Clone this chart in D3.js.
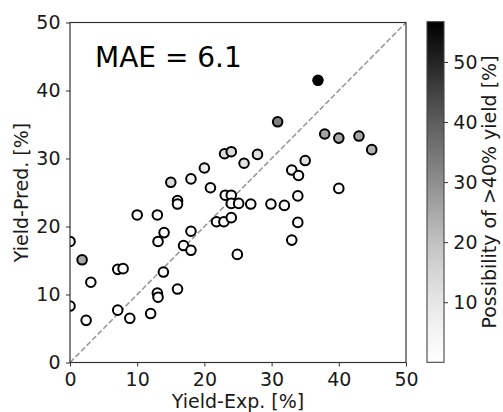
<!DOCTYPE html>
<html>
<head>
<meta charset="utf-8">
<script src="https://cdn.jsdelivr.net/npm/d3@7/dist/d3.min.js"></script>
<style>
  html, body { margin: 0; padding: 0; background: #fff; }
  svg { display: block; font-family: "DejaVu Sans", sans-serif; }
</style>
</head>
<body>
<svg id="chart" width="503" height="412"></svg>
<script>
// Experimental vs predicted yield, coloured by the predicted chance of >40% yield
const yieldExp = [
  0, 3.1, 0, 2.4, 7.1, 7.9, 7.1, 8.9, 10.0, 13.0,
  13.1, 14.0, 13.9, 13.0, 13.1, 12.0, 16.0, 16.0, 16.0, 16.9,
  18.0, 18.0, 21.8, 22.9, 24.0, 24.9, 23.1, 24.0, 24.0, 25.1,
  26.9, 29.9, 31.9, 33.9, 33.9, 33.0, 33.0, 34.0, 40.0,
  35.0, 15.0, 18.0, 20.0, 20.9, 23.0, 24.0, 25.9, 27.9,
  1.8, 30.9, 37.9, 40.0, 43.0, 44.9, 36.9
];
const yieldPred = [
  17.8, 11.8, 8.3, 6.2, 13.7, 13.8, 7.7, 6.5, 21.7, 21.7,
  17.8, 19.1, 13.3, 10.2, 9.6, 7.2, 10.8, 23.8, 23.3, 17.2,
  19.3, 16.5, 20.7, 20.7, 21.3, 15.9, 24.6, 24.6, 23.4, 23.4,
  23.3, 23.3, 23.1, 24.5, 20.6, 18.0, 28.3, 27.5, 25.6,
  29.7, 26.5, 27.0, 28.6, 25.7, 30.7, 31.0, 29.3, 30.6,
  15.1, 35.4, 33.6, 33.0, 33.3, 31.3, 41.5
];
const possibility = [
  1.5, 1.0, 1.2, 0.8, 1.5, 1.8, 0.9, 0.7, 2.0, 2.2,
  1.6, 1.8, 1.2, 1.0, 0.9, 0.8, 1.2, 3.0, 2.5, 1.5,
  2.0, 1.4, 1.8, 2.0, 2.2, 1.3, 2.8, 3.0, 2.4, 2.6,
  2.5, 2.8, 2.6, 3.0, 2.0, 1.6, 3.5, 3.2, 2.5,
  12, 14, 6, 8, 5, 13, 13, 11, 12,
  25, 33, 26, 25, 25.5, 23, 56.7
];
const axisTicks = [0, 10, 20, 30, 40, 50];
const colorTicks = [10, 20, 30, 40, 50];
const colorRange = [0, 56.7];
const maeText = "MAE = 6.1";

const svg = d3.select("#chart");
const plotL = 70, plotR = 406, plotT = 22.5, plotB = 362.5;

const x = d3.scaleLinear().domain([0, 50]).range([plotL, plotR]);
const y = d3.scaleLinear().domain([0, 50]).range([plotB, plotT]);
const color = d3.scaleSequential(d3.interpolateGreys).domain(colorRange);

const fontSize = 19;
const ink = "#1a1a1a";

const defs = svg.append("defs");
// clip for marks inside the axes
defs.append("clipPath").attr("id", "plotClip")
  .append("rect").attr("x", plotL).attr("y", plotT)
  .attr("width", plotR - plotL).attr("height", plotB - plotT);

// identity line
svg.append("line")
  .attr("clip-path", "url(#plotClip)")
  .attr("x1", x(0)).attr("y1", y(0)).attr("x2", x(50)).attr("y2", y(50))
  .attr("stroke", "#9a9a9a").attr("stroke-width", 1.6)
  .attr("stroke-dasharray", "5.5,2.4");

// points
const pts = yieldExp.map((v, i) => ({ e: v, p: yieldPred[i], c: possibility[i] }));
svg.append("g").attr("clip-path", "url(#plotClip)")
  .selectAll("circle").data(pts).join("circle")
  .attr("cx", d => x(d.e)).attr("cy", d => y(d.p)).attr("r", 4.8)
  .attr("fill", d => color(d.c))
  .attr("stroke", "#000").attr("stroke-width", 2);

// axes
const styleAxis = g => {
  g.select(".domain").remove();
  g.selectAll(".tick line").attr("stroke", "#333");
  g.selectAll(".tick text").attr("fill", ink).attr("font-size", fontSize)
    .attr("font-family", "DejaVu Sans, sans-serif");
};
svg.append("g").attr("transform", `translate(0,${plotB})`)
  .call(d3.axisBottom(x).tickValues(axisTicks).tickSize(4).tickPadding(6.5).tickFormat(d3.format("d")))
  .call(styleAxis);
svg.append("g").attr("transform", `translate(${plotL},0)`)
  .call(d3.axisLeft(y).tickValues(axisTicks).tickSize(4).tickPadding(5.5).tickFormat(d3.format("d")))
  .call(styleAxis);

// frame
svg.append("rect").attr("x", plotL).attr("y", plotT)
  .attr("width", plotR - plotL).attr("height", plotB - plotT)
  .attr("fill", "none").attr("stroke", "#333").attr("stroke-width", 1.2);

// annotation
svg.append("text").attr("x", 95).attr("y", 66.5)
  .attr("font-size", 28).attr("fill", "#000").text(maeText);

// axis titles
svg.append("text").attr("x", (plotL + plotR) / 2).attr("y", 407.5)
  .attr("text-anchor", "middle").attr("font-size", fontSize).attr("fill", ink)
  .text("Yield-Exp. [%]");
svg.append("text").attr("transform", `translate(27.5,${(plotT + plotB) / 2}) rotate(-90)`)
  .attr("text-anchor", "middle").attr("font-size", fontSize).attr("fill", ink)
  .text("Yield-Pred. [%]");

// colour bar
const cbX = 427, cbW = 17, cbTop = 21.7, cbBottom = 362.3;
const cScale = d3.scaleLinear().domain(colorRange).range([cbBottom, cbTop]);
const grad = defs.append("linearGradient").attr("id", "cbGrad")
  .attr("x1", 0).attr("y1", 1).attr("x2", 0).attr("y2", 0);
d3.range(0, 1.0001, 0.05).forEach(t => {
  grad.append("stop").attr("offset", t)
    .attr("stop-color", color(colorRange[0] + t * (colorRange[1] - colorRange[0])));
});
svg.append("rect").attr("x", cbX).attr("y", cbTop).attr("width", cbW).attr("height", cbBottom - cbTop)
  .attr("fill", "url(#cbGrad)").attr("stroke", "#444").attr("stroke-width", 1.1);
svg.append("g").attr("transform", `translate(${cbX + cbW},0)`)
  .call(d3.axisRight(cScale).tickValues(colorTicks).tickSize(4).tickPadding(5.3).tickFormat(d3.format("d")))
  .call(styleAxis);
svg.append("text").attr("transform", `translate(496,${(cbTop + cbBottom) / 2}) rotate(-90)`)
  .attr("text-anchor", "middle").attr("font-size", fontSize).attr("fill", ink)
  .text("Possibility of >40% yield [%]");
</script>
</body>
</html>
